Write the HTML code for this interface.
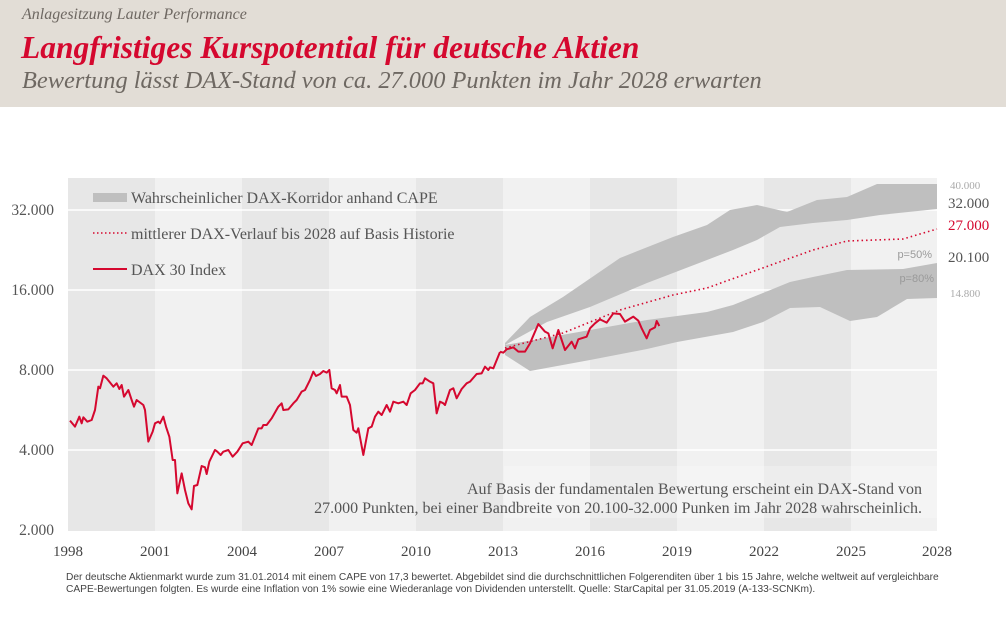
<!DOCTYPE html>
<html><head><meta charset="utf-8"><style>
body{margin:0;width:1006px;height:620px;background:#fff;overflow:hidden;position:relative;font-family:"Liberation Serif",serif}
.hdr{position:absolute;left:0;top:0;width:1006px;height:107px;background:#e2ddd6}
.t{position:absolute;white-space:nowrap;font-style:italic}
.foot{position:absolute;left:66px;top:572px;font-family:"Liberation Sans",sans-serif;font-size:10.2px;color:#444;line-height:12px;white-space:nowrap}
</style></head><body>
<div class="hdr"></div>
<div class="t" style="left:22px;top:6px;font-size:16px;color:#6e6862">Anlagesitzung Lauter Performance</div>
<div class="t" style="left:21px;top:30px;font-size:31.5px;font-weight:bold;color:#d5082f">Langfristiges Kurspotential für deutsche Aktien</div>
<div class="t" style="left:22px;top:67px;font-size:24.4px;color:#6e6862">Bewertung lässt DAX-Stand von ca. 27.000 Punkten im Jahr 2028 erwarten</div>
<svg width="1006" height="620" style="position:absolute;left:0;top:0" font-family="Liberation Serif, serif">
<rect x="68" y="178" width="87" height="353" fill="#e7e7e7"/>
<rect x="155" y="178" width="87" height="353" fill="#f1f1f1"/>
<rect x="242" y="178" width="87" height="353" fill="#e7e7e7"/>
<rect x="329" y="178" width="87" height="353" fill="#f1f1f1"/>
<rect x="416" y="178" width="87" height="353" fill="#e7e7e7"/>
<rect x="503" y="178" width="87" height="353" fill="#f1f1f1"/>
<rect x="590" y="178" width="87" height="353" fill="#e7e7e7"/>
<rect x="677" y="178" width="87" height="353" fill="#f1f1f1"/>
<rect x="764" y="178" width="87" height="353" fill="#e7e7e7"/>
<rect x="851" y="178" width="86" height="353" fill="#f1f1f1"/>
<g stroke="#fff" stroke-width="1.5"><line x1="68" x2="937" y1="210" y2="210"/><line x1="68" x2="937" y1="290" y2="290"/><line x1="68" x2="937" y1="370" y2="370"/><line x1="68" x2="937" y1="450" y2="450"/></g>
<rect x="504" y="466" width="433" height="52" fill="#fff" opacity="0.25"/>
<polygon fill="#bfbfbf" points="505,343 530,317 563,297 620,258 673,237 707,225 730,210 757,205 787,212 817,200 847,197 877,184 937,184 937,209 880,215 847,220 813,223 780,227 757,240 733,250 707,260 647,283 590,307 547,322 505,345"/>
<polygon fill="#bfbfbf" points="505,345 590,330 647,320 707,312 733,305 763,293 790,282 813,277 847,270 903,269 937,263 937,298 907,299 877,317 850,321 820,307 790,308 763,322 733,332 677,342 647,349 590,360 530,371 505,355"/>
<polyline fill="none" stroke="#d5082f" stroke-width="1.6" stroke-dasharray="1.5,3" points="505,348 563,333 620,310 673,295 707,288 757,270 813,250 847,241 903,239 937,229"/>
<g transform="translate(0,170) scale(0.33333)"><polyline fill="none" stroke="#d5082f" stroke-width="2" vector-effect="non-scaling-stroke" stroke-linejoin="round" points="210,752 225,770 238,740 245,760 250,742 262,755 275,750 285,720 295,650 300,655 310,617 320,625 340,650 350,640 358,657 365,645 372,680 385,660 395,690 402,710 410,690 430,705 435,720 445,815 458,785 465,760 475,755 480,760 490,740 498,770 508,800 518,870 525,870 532,970 545,910 555,960 565,1000 575,1018 582,948 592,945 605,888 615,892 620,912 628,875 645,840 652,845 662,855 670,845 685,840 698,860 712,845 728,820 745,815 755,825 763,805 775,775 785,775 790,765 800,765 815,745 835,710 845,700 850,720 865,718 880,700 890,690 905,665 915,660 930,630 940,605 948,618 960,612 970,603 980,608 988,600 995,655 1005,660 1010,670 1020,645 1025,680 1040,680 1050,705 1060,780 1070,788 1075,775 1090,855 1105,775 1115,770 1125,740 1135,725 1145,735 1160,705 1170,725 1180,695 1195,700 1210,695 1220,705 1232,670 1245,660 1260,640 1268,640 1275,625 1290,635 1300,640 1310,730 1320,695 1330,700 1335,705 1350,660 1360,655 1370,685 1385,657 1400,640 1410,635 1430,612 1445,610 1455,590 1465,600 1470,592 1480,595 1500,546"/></g>
<g transform="translate(480,290) scale(0.33333)"><polyline fill="none" stroke="#d5082f" stroke-width="2" vector-effect="non-scaling-stroke" stroke-linejoin="round" points="60,185 70,188 80,178 100,172 115,185 135,185 150,160 175,102 195,125 205,130 218,175 235,120 255,180 275,155 285,175 295,148 320,140 330,115 345,100 360,88 380,98 400,70 420,72 435,95 460,80 475,92 485,115 500,145 510,120 525,112 530,93 538,108"/></g>
<rect x="93" y="193" width="34" height="9" fill="#bfbfbf"/>
<line x1="93" x2="127" y1="233" y2="233" stroke="#d5082f" stroke-width="1.6" stroke-dasharray="1.5,2.5"/>
<line x1="93" x2="127" y1="269" y2="269" stroke="#d5082f" stroke-width="2"/>
<g font-size="16" fill="#555"><text x="131" y="203">Wahrscheinlicher DAX-Korridor anhand CAPE</text><text x="131" y="239">mittlerer DAX-Verlauf bis 2028 auf Basis Historie</text><text x="131" y="275">DAX 30 Index</text></g>
<g font-size="15.5" fill="#555" text-anchor="end"><text x="54" y="215">32.000</text><text x="54" y="295">16.000</text><text x="54" y="375">8.000</text><text x="54" y="455">4.000</text><text x="54" y="535">2.000</text></g>
<g font-size="15" fill="#444" text-anchor="middle"><text x="68" y="556">1998</text><text x="155" y="556">2001</text><text x="242" y="556">2004</text><text x="329" y="556">2007</text><text x="416" y="556">2010</text><text x="503" y="556">2013</text><text x="590" y="556">2016</text><text x="677" y="556">2019</text><text x="764" y="556">2022</text><text x="851" y="556">2025</text><text x="937" y="556">2028</text></g>
<g font-family="Liberation Sans, sans-serif" font-size="11" fill="#9a9a9a" text-anchor="end"><text x="932" y="258">p=50%</text><text x="934" y="282">p=80%</text></g>
<text x="950" y="189" font-size="11" fill="#aaa">40.000</text>
<text x="948" y="208" font-size="15" fill="#555">32.000</text>
<text x="948" y="230" font-size="15" fill="#d5082f">27.000</text>
<text x="948" y="262" font-size="15" fill="#555">20.100</text>
<text x="950" y="297" font-size="11" fill="#aaa">14.800</text>
<g font-size="16" fill="#555" text-anchor="end"><text x="922" y="494">Auf Basis der fundamentalen Bewertung erscheint  ein  DAX-Stand von</text><text x="922" y="513">27.000  Punkten, bei einer Bandbreite von 20.100-32.000 Punken im Jahr 2028 wahrscheinlich.</text></g>
</svg>
<div class="foot">Der deutsche Aktienmarkt wurde zum 31.01.2014 mit einem CAPE von 17,3 bewertet. Abgebildet sind die durchschnittlichen Folgerenditen über 1 bis 15 Jahre, welche weltweit auf vergleichbare<br>CAPE-Bewertungen folgten. Es wurde eine Inflation von 1% sowie eine Wiederanlage von Dividenden unterstellt. Quelle: StarCapital per 31.05.2019 (A-133-SCNKm).</div>
</body></html>
